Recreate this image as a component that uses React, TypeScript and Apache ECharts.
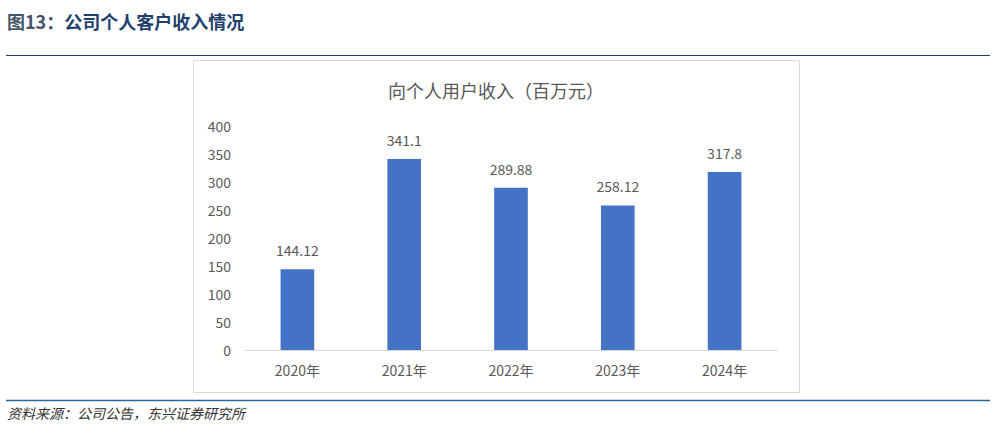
import React, { useEffect, useRef } from "react";
import * as echarts from "echarts";

const years = ["2020年", "2021年", "2022年", "2023年", "2024年"];
const revenue = [144.12, 341.1, 289.88, 258.12, 317.8];
const yTicks = [0, 50, 100, 150, 200, 250, 300, 350, 400];

const pageTitleNo = "图13：";
const pageTitle = "公司个人客户收入情况";
const chartTitle = "向个人用户收入（百万元）";
const source = "资料来源：公司公告，东兴证券研究所";

const FONT = "'Noto Sans CJK SC', 'Noto Sans', sans-serif";

const App = () => {
  const chartRef = useRef<HTMLDivElement | null>(null);

  useEffect(() => {
    if (!chartRef.current) return;
    const myChart = echarts.init(chartRef.current, undefined, { renderer: "svg" });

    const option = {
      animation: false,
      backgroundColor: "#ffffff",
      textStyle: { fontFamily: FONT },
      title: {
        text: chartTitle,
        left: 491,
        top: 76,
        textAlign: "center",
        textStyle: { color: "#595959", fontSize: 18, fontWeight: "normal", fontFamily: FONT },
      },
      grid: { left: 244, right: 217, top: 126, bottom: 89 },
      xAxis: {
        type: "category",
        data: years,
        axisLine: { show: true, lineStyle: { color: "#d9d9d9", width: 1 } },
        axisTick: { show: false },
        axisLabel: { color: "#595959", fontSize: 14, margin: 13, fontFamily: FONT },
      },
      yAxis: {
        type: "value",
        min: yTicks[0],
        max: yTicks[yTicks.length - 1],
        interval: 50,
        axisLine: { show: false },
        axisTick: { show: false },
        splitLine: { show: false },
        axisLabel: { color: "#595959", fontSize: 14, margin: 13, fontFamily: FONT },
      },
      series: [
        {
          type: "bar",
          data: revenue,
          barWidth: "31.5%",
          itemStyle: { color: "#4472C4" },
          label: {
            show: true,
            position: "top",
            distance: 12,
            color: "#595959",
            fontSize: 14,
            fontFamily: FONT,
          },
        },
      ],
      graphic: [
        {
          type: "text",
          left: 7,
          top: 12,
          style: {
            text: `{a|${pageTitleNo}}{b|${pageTitle}}`,
            rich: {
              a: { fill: "#44546a", fontSize: 18, fontWeight: "bold", fontFamily: FONT },
              b: { fill: "#1f3f6e", fontSize: 18, fontWeight: "bold", fontFamily: FONT },
            },
          },
        },
        {
          type: "line",
          shape: { x1: 6, y1: 55.5, x2: 990, y2: 55.5 },
          style: { stroke: "#1f3f6e", lineWidth: 1.2 },
        },
        {
          type: "rect",
          shape: { x: 193.5, y: 60.5, width: 606, height: 332 },
          style: { fill: "none", stroke: "#d9d9d9", lineWidth: 1 },
          z: -1,
        },
        {
          type: "line",
          shape: { x1: 6, y1: 400.5, x2: 990, y2: 400.5 },
          style: { stroke: "#2e64a0", lineWidth: 1.5 },
        },
        {
          type: "text",
          left: 7,
          top: 406,
          style: {
            text: source,
            fill: "#333333",
            fontSize: 14,
            fontStyle: "italic",
            fontFamily: FONT,
          },
        },
      ],
    };

    myChart.setOption(option);

    return () => {
      myChart.dispose();
    };
  }, []);

  return (
    <div
      ref={chartRef}
      style={{ position: "absolute", left: 0, top: 0, width: "995px", height: "439px" }}
    ></div>
  );
};

export default App;
